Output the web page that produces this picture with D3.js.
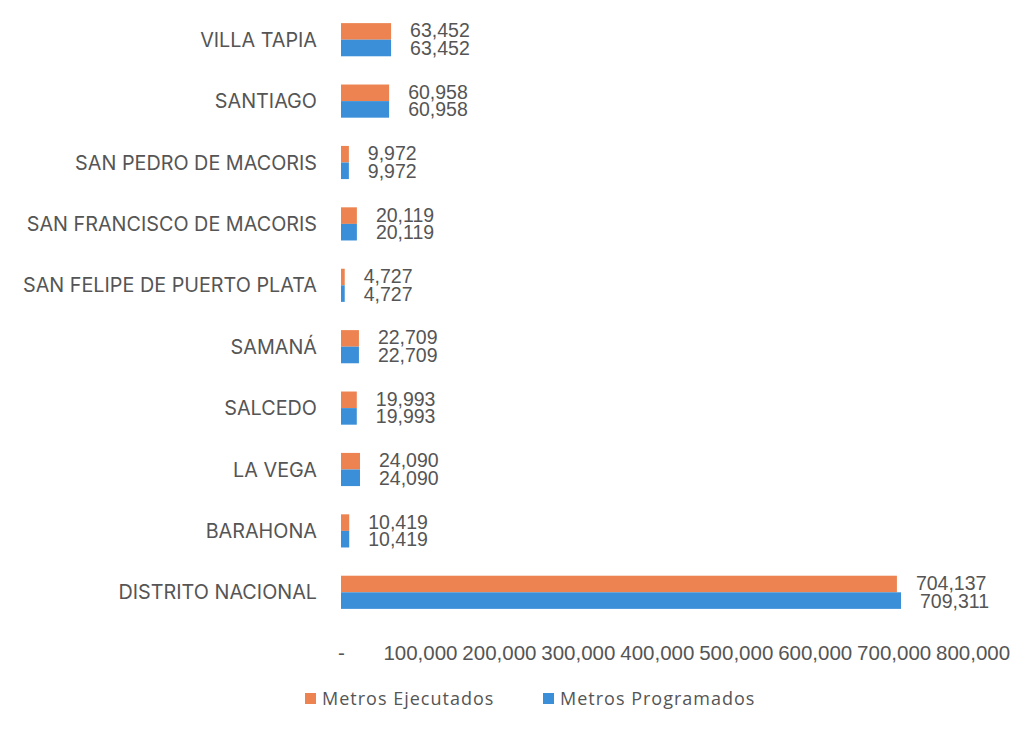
<!DOCTYPE html>
<html>
<head>
<meta charset="utf-8">
<script src="https://cdn.jsdelivr.net/npm/d3@7"></script>
<style>
  body { margin: 0; background: #fff; }
  svg text { fill: #555; }
</style>
</head>
<body>
<svg id="chart" width="1036" height="729"></svg>
<script>
// data, top to bottom as drawn
var categories = ["VILLA TAPIA", "SANTIAGO", "SAN PEDRO DE MACORIS", "SAN FRANCISCO DE MACORIS",
	"SAN FELIPE DE PUERTO PLATA", "SAMANÁ", "SALCEDO", "LA VEGA", "BARAHONA", "DISTRITO NACIONAL"];
var ejecutados = [63452, 60958, 9972, 20119, 4727, 22709, 19993, 24090, 10419, 704137];
var programados = [63452, 60958, 9972, 20119, 4727, 22709, 19993, 24090, 10419, 709311];
var seriesNames = ["Metros Ejecutados", "Metros Programados"];
var tickValues = [0, 100000, 200000, 300000, 400000, 500000, 600000, 700000, 800000];

var colors = ["#ec8350", "#3b8fd8"];

var svg = d3.select("#chart");

var x = d3.scaleLinear()
	.domain([0, 800000])
	.range([341, 972.6]);

var y = d3.scaleBand()
	.domain(categories)
	.range([9, 623])
	.paddingInner(0.46)
	.paddingOuter(0.23);

var fmt = d3.format(",");

var rows = categories.map(function(c, i) {
	return { cat: c, vals: [ejecutados[i], programados[i]] };
});

var groups = svg.selectAll(".row")
	.data(rows)
	.enter()
	.append("g")
	.attr("class", "row");

var barH = y.bandwidth() / 2;

groups.each(function(d) {
	var g = d3.select(this);
	d.vals.forEach(function(v, k) {
		var top = y(d.cat) + k * barH;
		g.append("rect")
			.attr("x", x(0))
			.attr("y", top)
			.attr("width", x(v) - x(0))
			.attr("height", barH)
			.attr("fill", colors[k]);
		// value labels sit tight on top of each other, as in the original
		g.append("text")
			.attr("x", x(v) + 19)
			.attr("y", top + barH / 2 + (k == 0 ? -1 : 0))
			.attr("dy", "0.36em")
			.attr("font-family", "Liberation Sans, Arial, sans-serif")
			.attr("font-size", "19.5px")
			.text(fmt(v));
	});
});

// category labels
svg.selectAll(".cat")
	.data(categories)
	.enter()
	.append("text")
	.attr("class", "cat")
	.attr("x", 317)
	.attr("y", function(d) { return y(d) + y.bandwidth() / 2; })
	.attr("dy", "0.36em")
	.attr("text-anchor", "end")
	.attr("font-family", "Inter, Noto Sans, sans-serif")
	.attr("font-size", "19.8px")
	.text(function(d) { return d; });

// x axis, labels only
var xAxis = d3.axisBottom(x)
	.tickValues(tickValues)
	.tickSize(0)
	.tickPadding(0)
	.tickFormat(function(d) { return d === 0 ? "-" : fmt(d); });

var axisG = svg.append("g")
	.attr("transform", "translate(0,643)")
	.call(xAxis);
axisG.select(".domain").remove();
axisG.selectAll("text")
	.attr("font-family", "Liberation Sans, Arial, sans-serif")
	.attr("font-size", "20.5px")
	.attr("fill", "#555")
	.attr("dy", "0.36em")
	.attr("y", 10);

// legend
var legendX = [305, 543];
var legend = svg.selectAll(".legend")
	.data(seriesNames)
	.enter()
	.append("g")
	.attr("class", "legend")
	.attr("transform", function(d, i) { return "translate(" + legendX[i] + ",693)"; });
legend.append("rect")
	.attr("width", 11)
	.attr("height", 11)
	.attr("fill", function(d, i) { return colors[i]; });
legend.append("text")
	.attr("x", 17)
	.attr("y", 6)
	.attr("dy", "0.36em")
	.attr("font-family", "Open Sans, sans-serif")
	.attr("font-size", "18px")
	.attr("letter-spacing", "1px")
	.text(function(d) { return d; });
</script>
</body>
</html>
